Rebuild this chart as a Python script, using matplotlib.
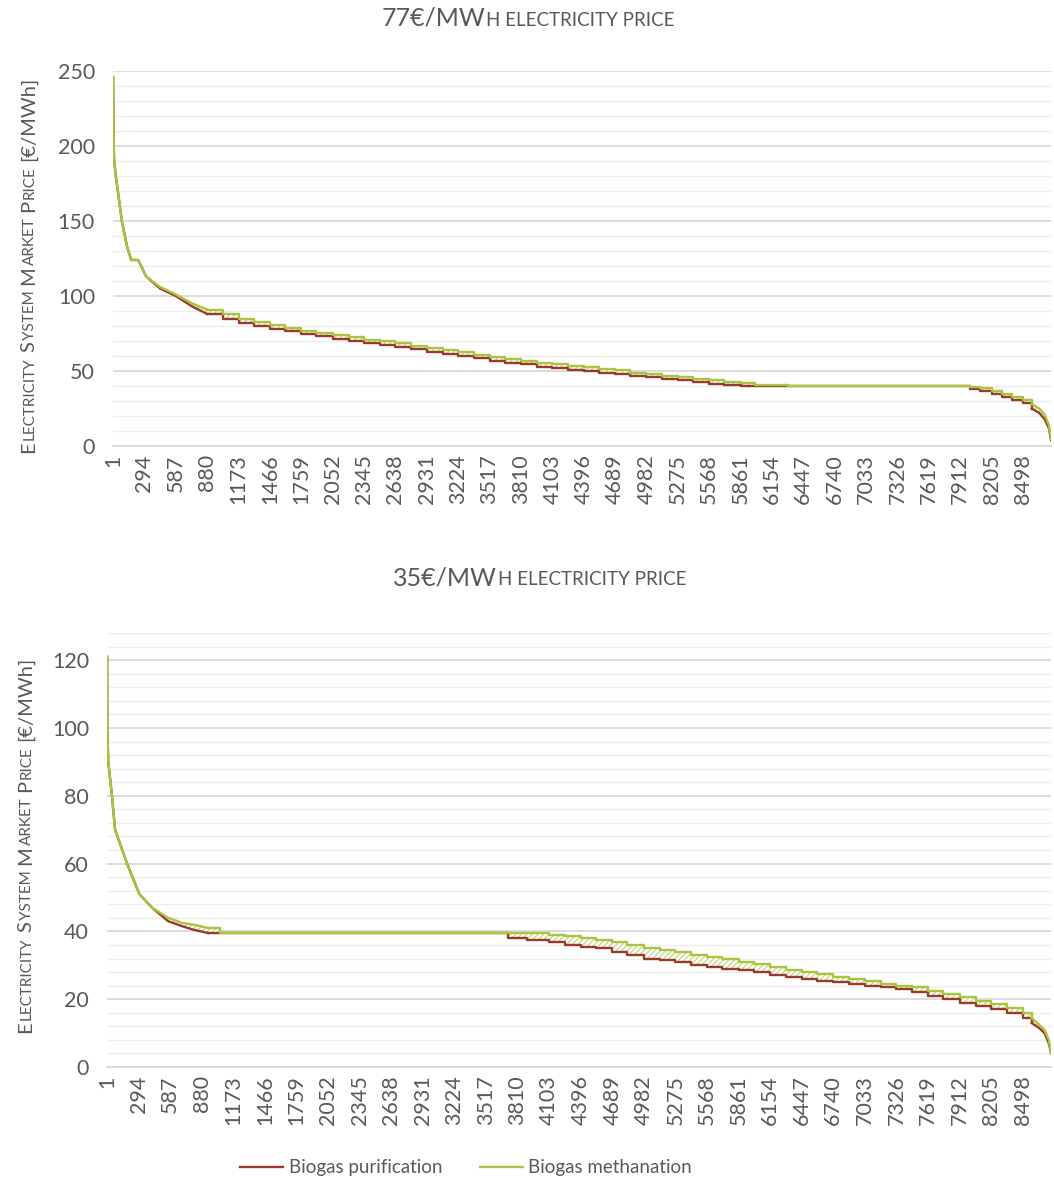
import numpy as np
import matplotlib.pyplot as plt
from matplotlib.lines import Line2D
from matplotlib.ticker import MultipleLocator, FixedLocator

plt.rcParams['font.family'] = ['Lato', 'DejaVu Sans']
plt.rcParams['hatch.linewidth'] = 1.0

# ---------------- data ----------------
hours_77 = [1, 5, 10, 28, 47, 85, 131, 170, 235, 310, 440, 587, 740, 880, 1030,
            1173, 1320, 1466, 1610, 1759, 1900, 2052, 2200, 2345, 2490, 2638,
            2780, 2931, 3080, 3224, 3370, 3517, 3660, 3810, 3960, 4103, 4250,
            4396, 4540, 4689, 4830, 4982, 5130, 5275, 5420, 5568, 5710, 5861,
            6000, 6154, 6300, 6447, 7900, 8000, 8100, 8205, 8300, 8400, 8498,
            8580, 8650, 8700, 8740, 8760]
meth_77 = [246, 211, 191, 179, 169, 149, 133, 124, 124, 113, 106, 101, 95, 91, 88,
           85, 83, 81, 79, 77, 75.5, 74, 72.5, 71, 70, 68.5,
           67, 65.5, 64, 62.5, 61, 59.5, 58, 57, 55.5, 54.5, 53.5,
           52.5, 51.5, 50.5, 49, 48, 47, 46, 45, 44, 43, 42,
           41, 40.5, 40, 40, 40, 39.5, 38.5, 37, 35, 33, 31,
           28, 25, 21, 14, 5]
purif_77 = [246, 211, 191, 179, 169, 149, 133, 124, 124, 113, 105, 100, 93, 88, 85,
            82, 80, 78, 76.5, 75, 73.5, 71.5, 70, 69, 67.5, 66,
            64.5, 63, 61.5, 60, 58.5, 57, 55.5, 54.5, 53, 52, 51,
            50, 49, 48, 47, 46, 45, 44, 43, 41.5, 40.5, 40,
            40, 40, 40, 40, 40, 38, 36.5, 35, 33, 31, 28.5,
            25, 22, 18, 12, 4]

hours_35 = [1, 3, 12, 46, 75, 186, 300, 418, 567, 700, 800, 940, 1050, 3700,
            3722, 3900, 4103, 4250, 4396, 4540, 4689, 4830, 4982, 5130, 5275,
            5420, 5568, 5710, 5861, 6000, 6154, 6300, 6447, 6590, 6740, 6890,
            7033, 7180, 7326, 7470, 7619, 7760, 7912, 8060, 8205, 8350, 8498,
            8580, 8650, 8700, 8740, 8760]
meth_35 = [121, 100, 90, 80, 70, 60, 51, 47, 44, 42.5, 42, 41, 39.5, 39.5,
           39.5, 39.5, 39, 38.5, 38, 37.5, 37, 36, 35, 34.5, 34,
           33, 32.5, 32, 31, 30.5, 29.5, 28.5, 28, 27.5, 26.5, 26,
           25.5, 24.5, 24, 23.5, 22.5, 21.5, 20.5, 19.5, 18.5, 17.5, 16,
           14.5, 12.5, 11, 8, 4]
purif_35 = [121, 100, 90, 80, 70, 60, 51, 47, 43, 41.5, 40.5, 39.5, 39.5, 39.5,
            38, 37.5, 37, 36, 35.5, 35, 34, 33, 32, 31.5, 31,
            30, 29.5, 29, 28.5, 28, 27, 26.5, 26, 25.5, 25, 24.5,
            24, 23.5, 23, 22, 21, 20, 19, 18, 17, 16, 14.5,
            13, 11.5, 10, 7, 4]

tick_hours = list(range(1, 8760, 293))

RED = '#9a3a2c'
GREEN = '#a9c43f'
HATCH = '#c9db8e'
TXT = '#595959'

W, H = 1054, 1191
fig = plt.figure(figsize=(W / 100, H / 100), dpi=100)
ax1 = fig.add_axes([113 / W, 1 - 446 / H, (1051 - 113) / W, (446 - 71) / H])
ax2 = fig.add_axes([107 / W, 1 - 1067 / H, (1051 - 107) / W, (1067 - 633) / H])


def draw_series(ax, hours, vals, color, z, h0, t0):
    # smooth steep head and tail, stepped middle section
    ax.plot(hours[:h0 + 1], vals[:h0 + 1], color=color, lw=1.7, zorder=z)
    ax.plot(hours[h0:t0 + 1], vals[h0:t0 + 1], drawstyle='steps-post', color=color, lw=1.7, zorder=z)
    ax.plot(hours[t0:], vals[t0:], color=color, lw=1.7, zorder=z)


def draw_panel(ax, hours, purif, meth, ymax, major, h0, t0):
    hatch_kw = dict(facecolor='white', edgecolor=HATCH, hatch='//////', linewidth=0, zorder=2)
    ax.fill_between(hours[:h0 + 1], purif[:h0 + 1], meth[:h0 + 1], **hatch_kw)
    ax.fill_between(hours[h0:t0 + 1], purif[h0:t0 + 1], meth[h0:t0 + 1], step='post', **hatch_kw)
    ax.fill_between(hours[t0:], purif[t0:], meth[t0:], **hatch_kw)
    draw_series(ax, hours, purif, RED, 3, h0, t0)
    draw_series(ax, hours, meth, GREEN, 4, h0, t0)
    ax.set_xlim(0, 8760)
    ax.set_ylim(0, ymax)
    ax.yaxis.set_major_locator(MultipleLocator(major))
    ax.yaxis.set_minor_locator(MultipleLocator(major / 5))
    ax.xaxis.set_major_locator(FixedLocator(tick_hours))
    ax.set_xticklabels([str(h) for h in tick_hours], rotation=90)
    ax.grid(which='major', axis='y', color='#d9d9d9', lw=1.3, zorder=0)
    ax.grid(which='minor', axis='y', color='#eeeeee', lw=1.0, zorder=0)
    ax.set_axisbelow(True)
    for s in ['top', 'right', 'left']:
        ax.spines[s].set_visible(False)
    ax.spines['bottom'].set_color('#d9d9d9')
    ax.spines['bottom'].set_linewidth(1.3)
    ax.tick_params(axis='both', which='both', length=0, labelsize=15.5, colors=TXT, pad=6)
    ax.tick_params(axis='y', pad=13)


draw_panel(ax1, hours_77, purif_77, meth_77, 250, 50, 13, 59)
draw_panel(ax2, hours_35, purif_35, meth_35, 128, 20, 11, 47)
ax2.set_yticks([0, 20, 40, 60, 80, 100, 120])

fig.canvas.draw()
renderer = fig.canvas.get_renderer()


def text_width(s, size):
    t = fig.text(0, 0, s, fontsize=size)
    w = t.get_window_extent(renderer).width
    t.remove()
    return w


def small_caps(x, y, runs, big, small, rotation=0):
    # runs: list of (text, is_small); x, y are pixel coords (from top-left) of the label centre/baseline
    pieces = []
    for s, is_small in runs:
        size = small if is_small else big
        txt = s.upper() if is_small else s
        core = txt.strip(' ')
        lead = len(txt) - len(txt.lstrip(' '))
        trail = len(txt) - len(txt.rstrip(' '))
        sp = text_width('a a', size) - text_width('aa', size)
        pieces.append((core, size, lead * sp, text_width(core, size), trail * sp))
    gap = 1.3
    total = sum(p[2] + p[3] + p[4] for p in pieces) + gap * (len(pieces) - 1)
    pos = -total / 2
    for core, size, lead, w, trail in pieces:
        pos += lead
        if rotation == 0:
            px, py = x + pos, y
        else:
            px, py = x, y - pos
        fig.text(px / W, 1 - py / H, core, fontsize=size, color=TXT,
                 rotation=rotation, rotation_mode='anchor', ha='left', va='baseline')
        pos += w + trail + gap


def split_runs(s):
    runs = []
    for ch in s:
        small = ch.islower()
        if ch == ' ' and runs:
            small = runs[-1][1]
        if runs and runs[-1][1] == small:
            runs[-1][0] += ch
        else:
            runs.append([ch, small])
    return [(r[0], r[1]) for r in runs]


ylab = split_runs('Electricity System Market Price ') + [('[€/MWh]', False)]
small_caps(34, 265, ylab, 14.5, 11, rotation=90)
small_caps(31, 845, ylab, 14.5, 11, rotation=90)
small_caps(528, 26, [('77€/MW', False)] + split_runs('h electricity price'), 18, 13.5)
small_caps(540, 585, [('35€/MW', False)] + split_runs('h electricity price'), 18, 13.5)

handles = [Line2D([], [], color=RED, lw=1.7), Line2D([], [], color=GREEN, lw=1.7)]
leg = fig.legend(handles, ['Biogas purification', 'Biogas methanation'], loc='center',
                 bbox_to_anchor=(466 / W, 1 - 1168 / H), ncol=2, frameon=False,
                 fontsize=13.5, handlelength=2.3, columnspacing=2.0, handletextpad=0.3)
for t in leg.get_texts():
    t.set_color(TXT)

fig.savefig('out.png', dpi=100)
